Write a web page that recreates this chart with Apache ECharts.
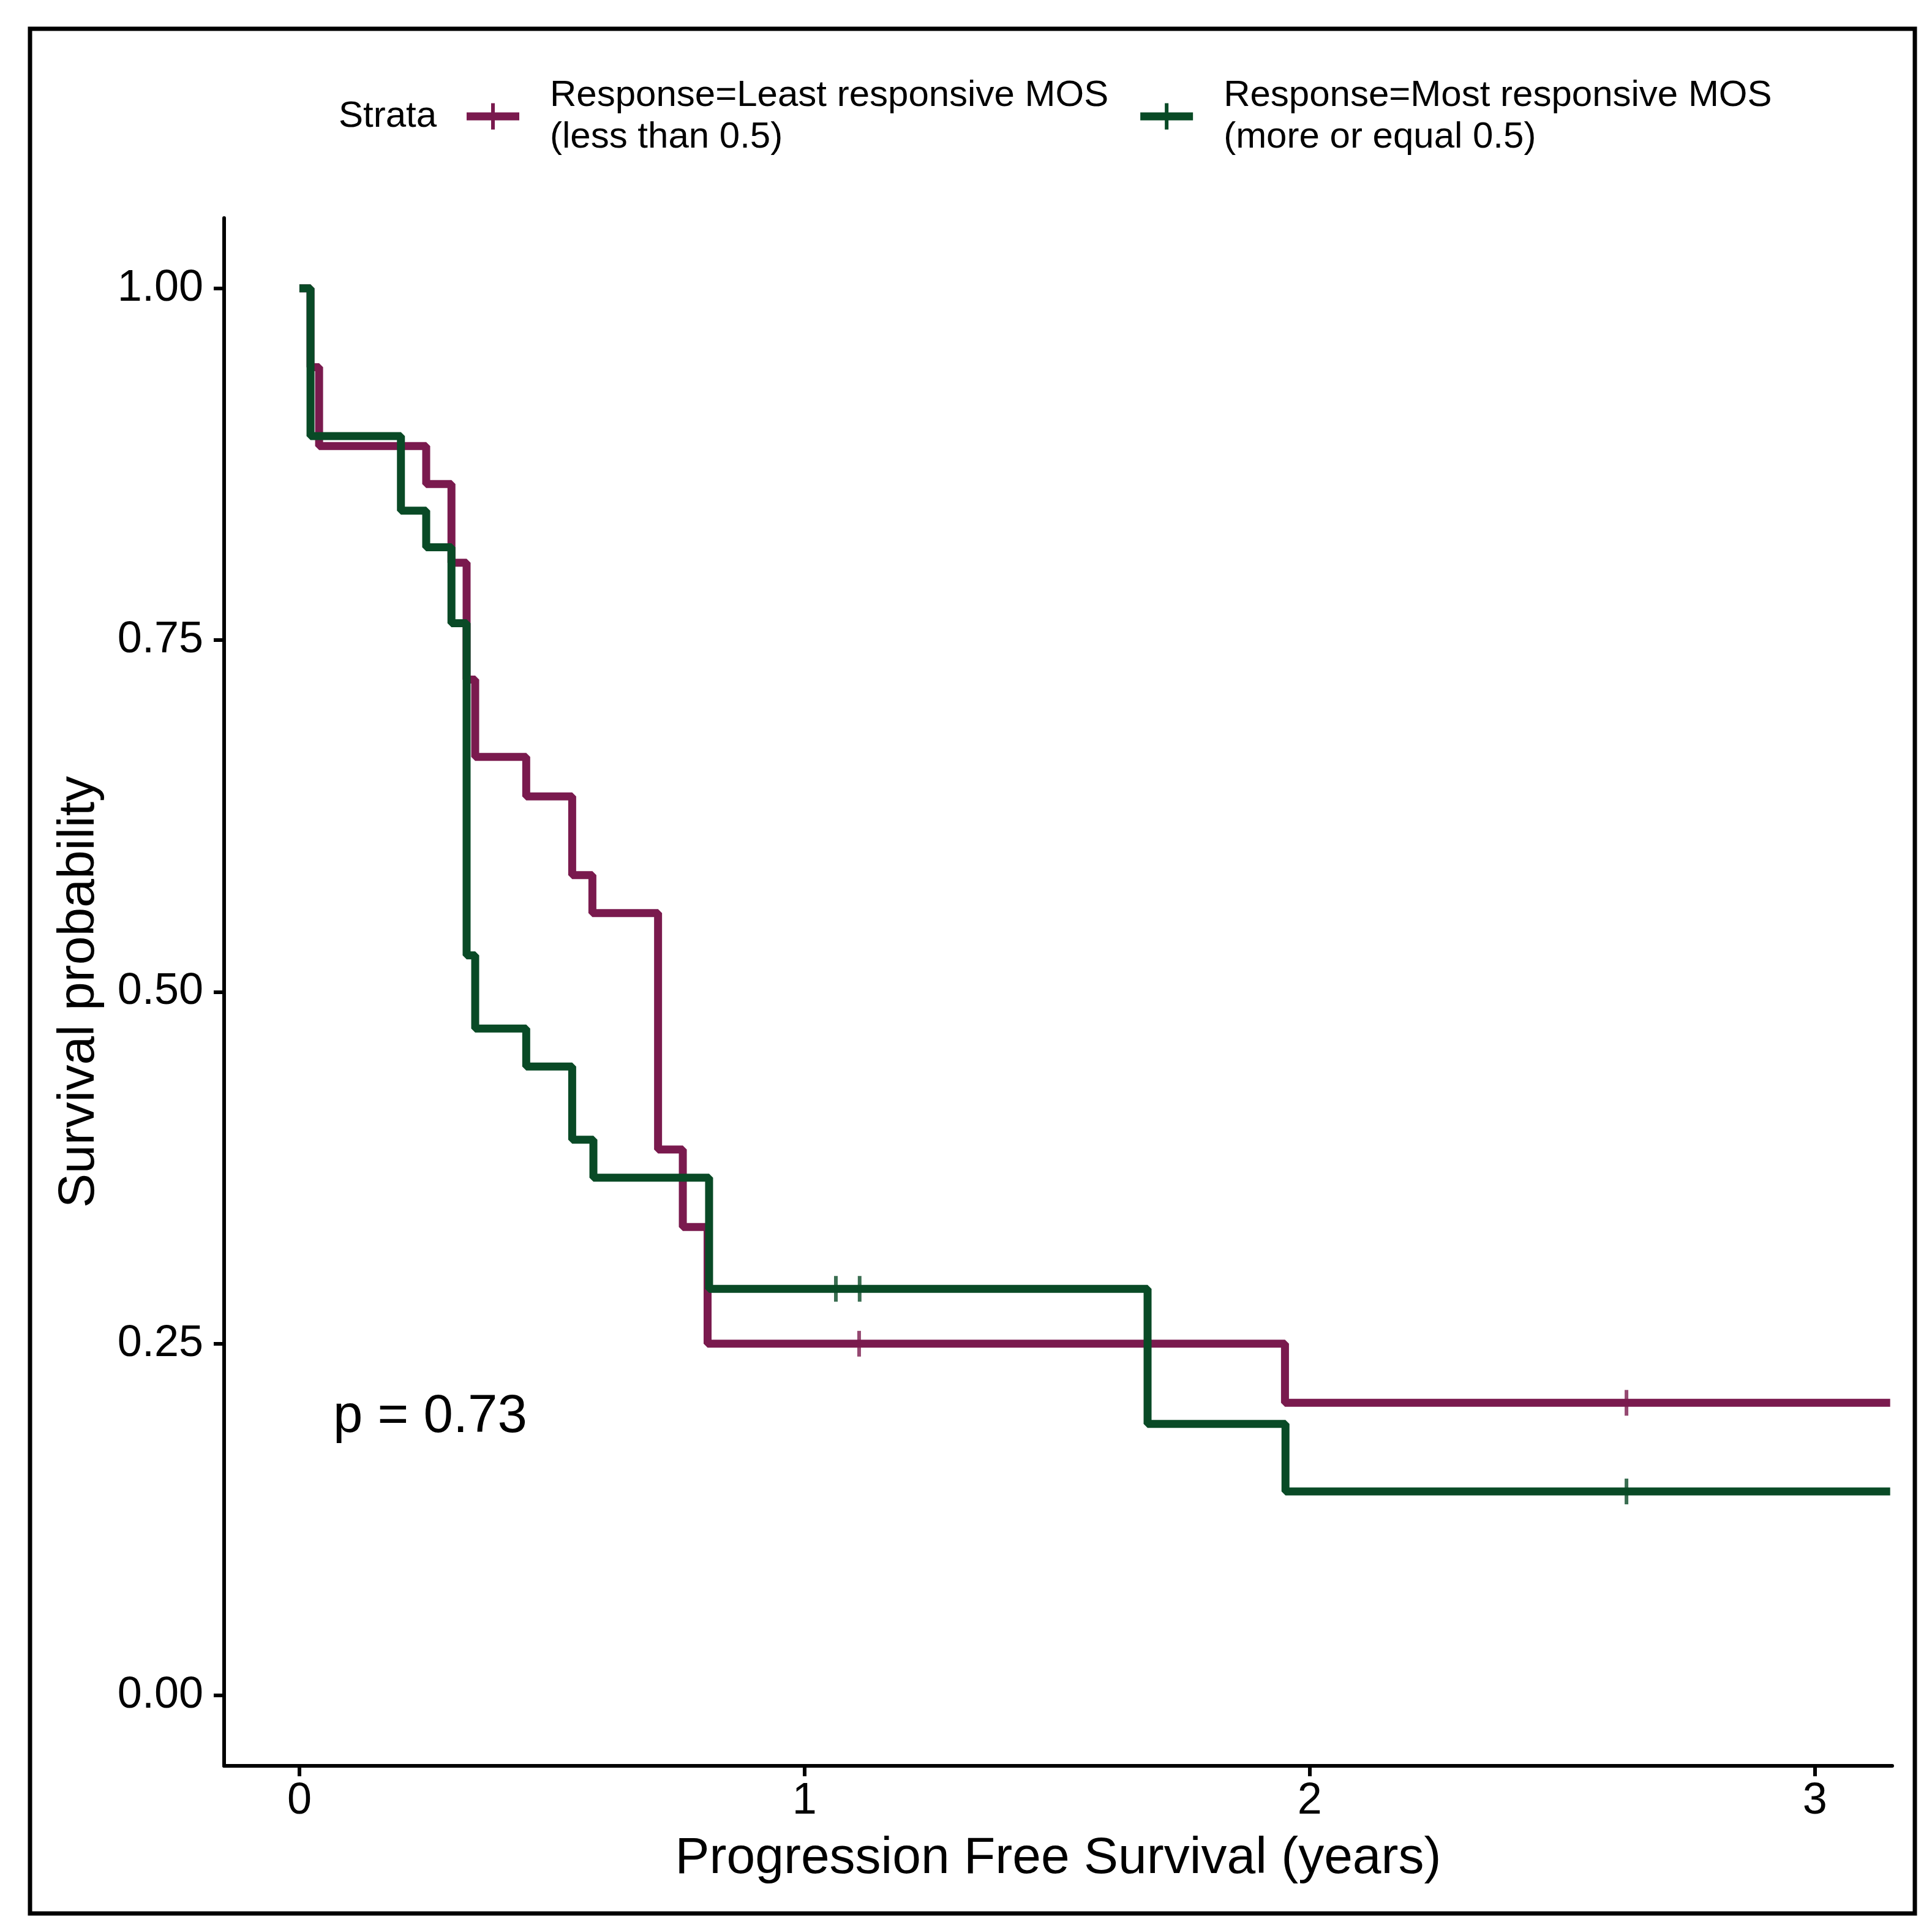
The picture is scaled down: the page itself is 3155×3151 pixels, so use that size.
<!DOCTYPE html>
<html>
<head>
<meta charset="utf-8">
<script src="https://cdn.jsdelivr.net/npm/echarts@6/dist/echarts.min.js"></script>
<style>
  html, body { margin: 0; padding: 0; background: #fff; }
  #km_chart { width: 3155px; height: 3151px; }
</style>
</head>
<body>
<div id="km_chart"></div>
<script>
// Kaplan-Meier steps (time in years, survival probability)
var leastTimes = [0, 0.022, 0.039, 0.251, 0.301, 0.331, 0.348, 0.449, 0.540, 0.580, 0.710, 0.759, 0.808, 1.951, 3.149];
var leastSurv = [1, 0.944, 0.888, 0.861, 0.805, 0.722, 0.667, 0.639, 0.583, 0.556, 0.388, 0.333, 0.250, 0.208, 0.208];
var leastCensorTimes = [1.108, 2.627];
var leastCensorSurv = [0.250, 0.208];

var mostTimes = [0, 0.022, 0.201, 0.251, 0.301, 0.331, 0.348, 0.449, 0.540, 0.582, 0.811, 1.679, 1.952, 3.149];
var mostSurv = [1, 0.895, 0.842, 0.816, 0.762, 0.526, 0.474, 0.447, 0.395, 0.368, 0.289, 0.193, 0.145, 0.145];
var mostCensorTimes = [1.062, 1.109, 2.627];
var mostCensorSurv = [0.289, 0.289, 0.145];

var xTicks = [0, 1, 2, 3];
var yTicks = [0, 0.25, 0.5, 0.75, 1];

var seriesNames = [
  "Response=Least responsive MOS\n(less than 0.5)",
  "Response=Most responsive MOS\n(more or equal 0.5)"
];
var lineColor = ["#7a1a4e", "#094a26"];
var pValueText = "p = 0.73";

var font = "Liberation Sans, Arial, Helvetica, sans-serif";

function zip(a, b) {
  return a.map(function (v, i) { return [v, b[i]]; });
}

function km_chart(dom) {
  var chart = echarts.init(document.getElementById(dom));

  // legend icon: thick line with a censor tick through it
  var legendIcon = "path://M0,15 L86,15 L86,28 L0,28 Z M40,0 L46,0 L46,43 L40,43 Z";

  var option = {
    animation: false,
    color: lineColor,
    backgroundColor: "#ffffff",
    textStyle: { fontFamily: font },
    grid: {
      left: 366,
      right: 65,
      top: 356,
      bottom: 268
    },
    legend: {
      left: 762,
      top: 122,
      padding: 0,
      itemGap: 52,
      itemWidth: 86,
      itemHeight: 43,
      data: [
        { name: seriesNames[0], icon: legendIcon },
        { name: seriesNames[1], icon: legendIcon }
      ],
      textStyle: {
        color: "#000",
        fontFamily: font,
        fontSize: 60,
        lineHeight: 68,
        padding: [0, 0, 0, 45]
      }
    },
    graphic: [
      {
        type: "rect",
        shape: { x: 49, y: 47, width: 3078, height: 3077 },
        style: { fill: "none", stroke: "#000", lineWidth: 7 },
        silent: true
      },
      {
        type: "text",
        left: 553,
        top: 160,
        style: {
          text: "Strata",
          fill: "#000",
          font: "60px " + font
        }
      },
      {
        type: "text",
        x: 544,
        y: 2314,
        style: {
          text: pValueText,
          fill: "#000",
          font: "87px " + font,
          textVerticalAlign: "middle"
        }
      }
    ],
    xAxis: {
      type: "value",
      min: -0.149,
      max: 3.153,
      name: "Progression Free Survival (years)",
      nameLocation: "middle",
      nameGap: 110,
      nameTextStyle: { color: "#000", fontSize: 84, fontFamily: font },
      axisLine: { onZero: false, lineStyle: { color: "#000", width: 6 } },
      axisTick: {
        show: true,
        length: 17,
        customValues: xTicks,
        lineStyle: { color: "#000", width: 6 }
      },
      axisLabel: {
        customValues: xTicks,
        margin: 22,
        color: "#000",
        fontSize: 72,
        fontFamily: font
      },
      splitLine: { show: false }
    },
    yAxis: {
      type: "value",
      min: -0.05,
      max: 1.05,
      name: "Survival probability",
      nameLocation: "middle",
      nameGap: 194,
      nameTextStyle: { color: "#000", fontSize: 84, fontFamily: font },
      axisLine: { show: true, onZero: false, lineStyle: { color: "#000", width: 6 } },
      axisTick: {
        show: true,
        length: 17,
        customValues: yTicks,
        lineStyle: { color: "#000", width: 6 }
      },
      axisLabel: {
        customValues: yTicks,
        margin: 34,
        color: "#000",
        fontSize: 72,
        fontFamily: font,
        formatter: function (v) { return v.toFixed(2); }
      },
      splitLine: { show: false }
    },
    series: [
      {
        name: seriesNames[0],
        type: "line",
        step: "end",
        data: zip(leastTimes, leastSurv),
        showSymbol: false,
        symbol: "none",
        lineStyle: { color: lineColor[0], width: 13 },
        z: 2
      },
      {
        name: seriesNames[1],
        type: "line",
        step: "end",
        data: zip(mostTimes, mostSurv),
        showSymbol: false,
        symbol: "none",
        lineStyle: { color: lineColor[1], width: 13 },
        z: 3
      },
      {
        name: seriesNames[0],
        type: "scatter",
        data: zip(leastCensorTimes, leastCensorSurv),
        symbol: "rect",
        symbolSize: [6, 42],
        itemStyle: { color: lineColor[0] },
        z: 4
      },
      {
        name: seriesNames[1],
        type: "scatter",
        data: zip(mostCensorTimes, mostCensorSurv),
        symbol: "rect",
        symbolSize: [6, 42],
        itemStyle: { color: lineColor[1] },
        z: 4
      }
    ]
  };

  chart.setOption(option);
}

km_chart("km_chart");
</script>
</body>
</html>
